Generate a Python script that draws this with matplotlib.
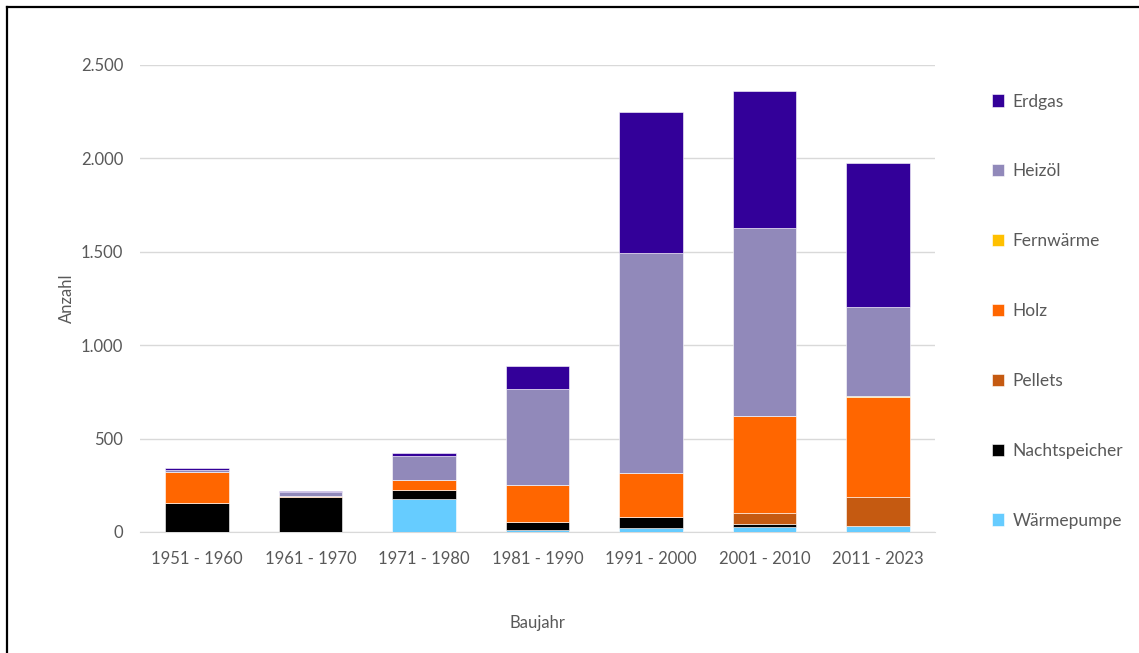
import numpy as np
import matplotlib.pyplot as plt
from matplotlib.ticker import FuncFormatter
from matplotlib.lines import Line2D

plt.rcParams['font.family'] = ['Lato', 'DejaVu Sans']

baujahr = ["1951 - 1960", "1961 - 1970", "1971 - 1980", "1981 - 1990",
           "1991 - 2000", "2001 - 2010", "2011 - 2023"]

# stacking order bottom -> top
waermepumpe = [0, 0, 177, 9, 20, 28, 32]
nachtspeicher = [157, 187, 48, 44, 60, 17, 0]
pellets = [0, 0, 0, 0, 0, 55, 155]
holz = [166, 7, 55, 197, 236, 521, 537]
fernwaerme = [0, 0, 0, 0, 0, 0, 6]
heizoel = [9, 20, 128, 515, 1178, 1006, 474]
erdgas = [11, 5, 13, 125, 754, 734, 771]

series = [
    ("Wärmepumpe", waermepumpe, "#66CCFF"),
    ("Nachtspeicher", nachtspeicher, "#000000"),
    ("Pellets", pellets, "#C55A11"),
    ("Holz", holz, "#FF6600"),
    ("Fernwärme", fernwaerme, "#FFC000"),
    ("Heizöl", heizoel, "#9189BA"),
    ("Erdgas", erdgas, "#330099"),
]

fig = plt.figure(figsize=(11.39, 6.53), dpi=100)
ax = fig.add_axes([140 / 1139, 1 - 532 / 653, 795 / 1139, 467 / 653])

x = np.arange(len(baujahr))
bottom = np.zeros(len(baujahr))
for name, vals, col in series:
    ax.bar(x, vals, 0.56, bottom=bottom, color=col, label=name,
           edgecolor="white", linewidth=0.4, zorder=3)
    bottom += np.array(vals)

ax.set_xlim(-0.5, len(baujahr) - 0.5)
ax.set_ylim(0, 2500)
ax.set_yticks(np.arange(0, 2501, 500))
ax.yaxis.set_major_formatter(FuncFormatter(lambda v, p: f"{int(v):,}".replace(",", ".")))
ax.set_xticks(x)
ax.set_xticklabels(baujahr)
ax.grid(axis="y", color="#D9D9D9", linewidth=1, zorder=0)
for s in ["top", "right", "left"]:
    ax.spines[s].set_visible(False)
ax.spines["bottom"].set_color("#D9D9D9")
ax.tick_params(axis="both", length=0, labelsize=12, colors="#595959")
ax.tick_params(axis="x", pad=14)
ax.tick_params(axis="y", pad=12)

ax.set_ylabel("Anzahl", fontsize=12, color="#595959")
ax.set_xlabel("Baujahr", fontsize=12, color="#595959")
ax.yaxis.set_label_coords(-0.082, 0.5)
ax.xaxis.set_label_coords(0.5, -0.178)

handles, labels = ax.get_legend_handles_labels()
leg = ax.legend(handles[::-1], labels[::-1], loc="center left",
                bbox_to_anchor=(845 / 795, 0.473),
                frameon=False, fontsize=12.5, labelspacing=3.1,
                handlelength=0.7, handleheight=0.7, handletextpad=0.5,
                borderaxespad=0)
for t in leg.get_texts():
    t.set_color("#595959")

# outer frame (top and left edges visible)
fig.add_artist(Line2D([7 / 1139, 1], [1 - 7 / 653, 1 - 7 / 653],
                      transform=fig.transFigure, color="black", linewidth=1.6))
fig.add_artist(Line2D([7 / 1139, 7 / 1139], [0, 1 - 7 / 653],
                      transform=fig.transFigure, color="black", linewidth=1.6))

fig.savefig("out.png", dpi=100)
